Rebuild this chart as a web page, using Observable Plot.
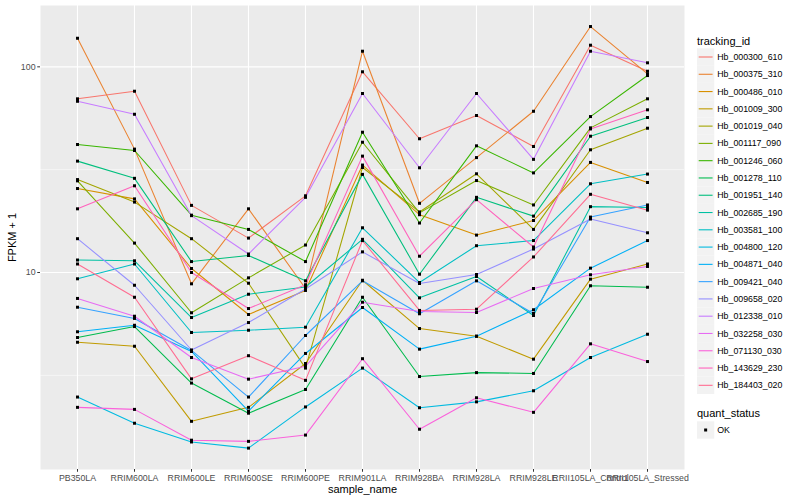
<!DOCTYPE html>
<html><head><meta charset="utf-8">
<script src="https://cdn.jsdelivr.net/npm/d3@7"></script>
<script src="https://cdn.jsdelivr.net/npm/@observablehq/plot@0.6"></script>
<style>
body{margin:0;background:#fff;font-family:"Liberation Sans",Arial,sans-serif;}
#wrap{position:relative;width:800px;height:500px;overflow:hidden;}
#chart{position:absolute;left:0;top:0;}
#legend{position:absolute;left:690px;top:0;}
</style></head><body>
<div id="wrap"><div id="chart"></div><svg id="legend" width="110" height="500"></svg></div>
<script>
const samples = ["PB350LA","RRIM600LA","RRIM600LE","RRIM600SE","RRIM600PE","RRIM901LA","RRIM928BA","RRIM928LA","RRIM928LE","RRII105LA_Control","RRII105LA_Stressed"];
const trackingIds = ["Hb_000300_610","Hb_000375_310","Hb_000486_010","Hb_001009_300","Hb_001019_040","Hb_001117_090","Hb_001246_060","Hb_001278_110","Hb_001951_140","Hb_002685_190","Hb_003581_100","Hb_004800_120","Hb_004871_040","Hb_009421_040","Hb_009658_020","Hb_012338_010","Hb_032258_030","Hb_071130_030","Hb_143629_230","Hb_184403_020"];
const colors = ["#F8766D","#EA8331","#D89000","#C09B00","#A3A500","#7CAE00","#39B600","#00BB4E","#00BF7D","#00C1A3","#00BFC4","#00BAE0","#00B0F6","#35A2FF","#9590FF","#C77CFF","#E76BF3","#FA62DB","#FF62BC","#FF6C91"];
const quantStatus = ["OK"];
const yTicks = [10, 100];

const hb_000300_610 = [69.9, 76.1, 21.2, 14.7, 23.6, 94.6, 44.7, 58.0, 41.0, 127.4, 95.2];
const hb_000375_310 = [137.7, 39.8, 8.81, 20.4, 8.36, 119.1, 21.7, 36.2, 60.8, 157, 92.5];
const hb_000486_010 = [25.6, 22.8, 10.46, 6.25, 8.18, 33.3, 19.1, 15.2, 17.9, 34.3, 27.4];
const hb_001009_300 = [4.58, 4.38, 1.89, 2.21, 3.61, 9.17, 5.34, 4.90, 3.79, 9.28, 11.0];
const hb_001019_040 = [28.3, 22.0, 14.6, 8.87, 3.43, 32.4, 19.7, 30.2, 16.2, 39.5, 50.3];
const hb_001117_090 = [27.9, 13.9, 6.37, 9.42, 13.6, 43.0, 19.5, 28.0, 21.3, 50.5, 69.9];
const hb_001246_060 = [41.9, 39.2, 19.0, 16.2, 11.3, 48.1, 17.4, 41.3, 30.5, 57.3, 90.7];
const hb_001278_110 = [4.83, 5.46, 2.90, 2.07, 2.70, 7.58, 3.12, 3.26, 3.23, 8.62, 8.48];
const hb_001951_140 = [34.8, 28.7, 11.3, 12.1, 9.11, 30.0, 9.81, 23.2, 18.8, 46.0, 56.7];
const hb_002685_190 = [11.5, 11.4, 6.04, 7.84, 8.50, 14.5, 7.53, 9.56, 6.18, 20.9, 20.7];
const hb_003581_100 = [9.32, 11.0, 5.11, 5.24, 5.42, 16.5, 8.94, 13.5, 14.3, 27.0, 30.1];
const hb_004800_120 = [2.48, 1.85, 1.50, 1.40, 2.22, 3.43, 2.20, 2.35, 2.66, 3.86, 5.01];
const hb_004871_040 = [5.15, 5.54, 4.13, 2.12, 4.04, 6.76, 4.24, 4.90, 6.59, 10.5, 14.3];
const hb_009421_040 = [6.78, 5.98, 4.18, 2.48, 4.94, 9.11, 6.30, 9.11, 6.32, 18.6, 21.3];
const hb_009658_020 = [14.6, 8.67, 4.20, 5.71, 8.31, 12.6, 8.84, 9.78, 13.0, 18.2, 15.6];
const hb_012338_010 = [68.0, 58.8, 18.9, 12.3, 23.2, 74.2, 32.3, 74.2, 35.5, 119.1, 104.6];
const hb_032258_030 = [7.48, 6.13, 3.86, 3.03, 3.50, 7.17, 6.46, 6.39, 8.36, 9.75, 10.7];
const hb_071130_030 = [2.21, 2.16, 1.53, 1.51, 1.62, 3.81, 1.73, 2.46, 2.09, 4.50, 3.69];
const hb_143629_230 = [20.4, 26.4, 10.0, 6.68, 8.72, 36.8, 12.0, 22.6, 13.3, 49.9, 61.8];
const hb_184403_020 = [11.0, 7.58, 3.04, 3.94, 2.99, 14.3, 6.54, 6.63, 11.9, 24.0, 20.1];

const seriesValues = [hb_000300_610, hb_000375_310, hb_000486_010, hb_001009_300, hb_001019_040, hb_001117_090, hb_001246_060, hb_001278_110, hb_001951_140, hb_002685_190, hb_003581_100, hb_004800_120, hb_004871_040, hb_009421_040, hb_009658_020, hb_012338_010, hb_032258_030, hb_071130_030, hb_143629_230, hb_184403_020];

const data = [];
trackingIds.forEach((id, i) => seriesValues[i].forEach((v, j) => data.push({id, sample: samples[j], v, status: "OK"})));

const font = "Liberation Sans, Arial, Helvetica, sans-serif";
const plot = Plot.plot({
  width: 690, height: 500,
  marginLeft: 40, marginRight: 6, marginTop: 5, marginBottom: 31,
  style: {fontFamily: font, fontSize: "8.8px", color: "#4d4d4d", background: "transparent", overflow: "visible"},
  x: {type: "point", domain: samples, padding: 0.6, label: null},
  y: {type: "log", domain: [1.102, 198.7], label: null},
  color: {domain: trackingIds, range: colors},
  marks: [
    Plot.frame({fill: "#ebebeb", stroke: null}),
    Plot.ruleY([Math.sqrt(10), Math.sqrt(1000)], {stroke: "#fff", strokeWidth: 0.55}),
    Plot.ruleY(yTicks, {stroke: "#fff", strokeWidth: 1.1}),
    Plot.ruleX(samples, {stroke: "#fff", strokeWidth: 1.1}),
    Plot.line(data, {x: "sample", y: "v", z: "id", stroke: "id", strokeWidth: 1.07}),
    Plot.dot(data, {x: "sample", y: "v", symbol: "square", r: 1.7, fill: "black", stroke: null}),
    Plot.axisX({tickSize: 2.75, tickPadding: 2.5, stroke: "#333", fill: "#4d4d4d", label: null}),
    Plot.axisY({ticks: yTicks, tickFormat: d => String(d), tickSize: 2.75, tickPadding: 2.2, stroke: "#333", fill: "#4d4d4d", label: null}),
    Plot.text(["sample_name"], {frameAnchor: "bottom", dy: 20, fontSize: 11, fill: "black", lineAnchor: "middle"}),
    Plot.text(["FPKM + 1"], {frameAnchor: "left", dx: -28, rotate: -90, fontSize: 11, fill: "black", textAnchor: "middle"})
  ]
});
document.getElementById("chart").appendChild(plot);

// legend
const lg = d3.select("#legend").style("font-family", font);
const keyX = 7, keySize = 17.28, firstCenter = 57;
lg.append("text").attr("x", keyX).attr("y", 45).attr("font-size", 11).attr("fill", "black").text("tracking_id");
trackingIds.forEach((id, i) => {
  const cy = firstCenter + i * keySize;
  lg.append("rect").attr("x", keyX).attr("y", cy - keySize / 2).attr("width", keySize).attr("height", keySize).attr("fill", "#f2f2f2");
  lg.append("line").attr("x1", keyX + 1.7).attr("x2", keyX + keySize - 1.7).attr("y1", cy).attr("y2", cy).attr("stroke", colors[i]).attr("stroke-width", 1.1);
  lg.append("text").attr("x", keyX + keySize + 3).attr("y", cy).attr("dy", "0.35em").attr("font-size", 8.8).attr("fill", "black").text(id);
});
lg.append("text").attr("x", keyX).attr("y", 417).attr("font-size", 11).attr("fill", "black").text("quant_status");
quantStatus.forEach((s, i) => {
  const cy = 430 + i * keySize;
  lg.append("rect").attr("x", keyX).attr("y", cy - keySize / 2).attr("width", keySize).attr("height", keySize).attr("fill", "#f2f2f2");
  lg.append("rect").attr("x", keyX + keySize / 2 - 1.5).attr("y", cy - 1.5).attr("width", 3).attr("height", 3).attr("fill", "black");
  lg.append("text").attr("x", keyX + keySize + 3).attr("y", cy).attr("dy", "0.35em").attr("font-size", 8.8).attr("fill", "black").text(s);
});
</script>
</body></html>
